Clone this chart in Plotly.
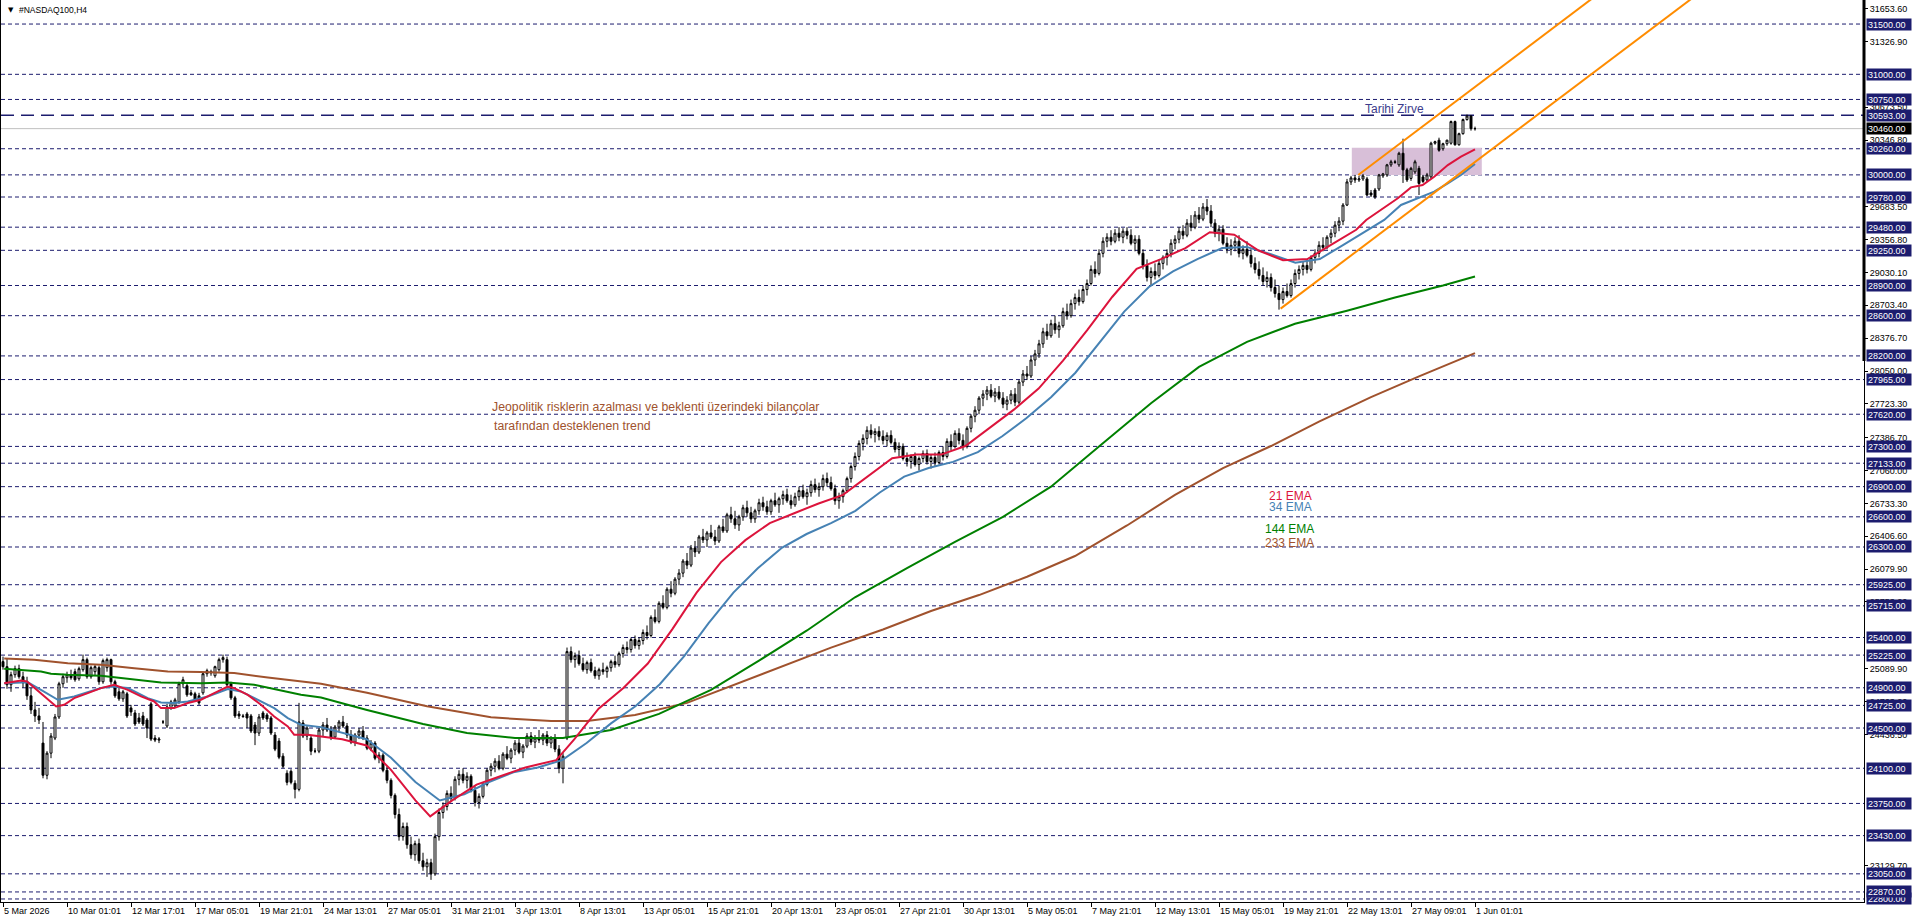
import plotly.graph_objects as go

# ---------------- data ----------------
x_labels = ["5 Mar 2026", "10 Mar 01:01", "12 Mar 17:01", "17 Mar 05:01", "19 Mar 21:01",
            "24 Mar 13:01", "27 Mar 05:01", "31 Mar 21:01", "3 Apr 13:01", "8 Apr 13:01",
            "13 Apr 05:01", "15 Apr 21:01", "20 Apr 13:01", "23 Apr 05:01", "27 Apr 21:01",
            "30 Apr 13:01", "5 May 05:01", "7 May 21:01", "12 May 13:01", "15 May 05:01",
            "19 May 21:01", "22 May 13:01", "27 May 09:01", "1 Jun 01:01"]
bars_per_label = 16

opens = [
    25160, 25110, 24930, 25030, 25090, 25010, 24950, 24820, 24680, 24620,
    24350, 24030, 24250, 24400, 24610, 24940, 25000, 25030, 25060, 24990,
    25080, 25180, 25010, 25060, 25100, 24960, 25100, 25180, 24960, 24860,
    24790, 24840, 24700, 24650, 24600, 24620, 24580, 24740, 24400, 24380,
    24560, 24520, 24700, 24720, 24760, 24940, 24920, 24850, 24840, 24820,
    24850, 25040, 25060, 25020, 25080, 25180, 25180, 24940, 24800, 24640,
    24620, 24640, 24620, 24530, 24450, 24650, 24630, 24600, 24430, 24370,
    24220, 24050, 24070, 23950, 23890, 24550, 24420, 24400, 24270, 24270,
    24480, 24530, 24480, 24410, 24510, 24560, 24520, 24430, 24360, 24430,
    24470, 24400, 24300, 24350, 24200, 24230, 24080, 23980, 23830, 23640,
    23420, 23520, 23340, 23240, 23350, 23180, 23120, 23160, 23050, 23420,
    23660, 23720, 23850, 23800, 23990, 24040, 23980, 24020, 23880, 23760,
    23820, 23940, 24080, 24120, 24170, 24100, 24240, 24200, 24280, 24350,
    24260, 24320, 24420, 24360, 24400, 24380, 24430, 24350, 24400, 24290,
    24100, 24400, 25260, 25180, 25220, 25140, 25080, 25150, 25070, 25020,
    25080, 25060, 25100, 25160, 25130, 25240, 25300, 25280, 25380, 25320,
    25370, 25450, 25420, 25600, 25560, 25740, 25700, 25880, 25840, 25980,
    26040, 26160, 26120, 26290, 26250, 26400, 26370, 26440, 26400, 26360,
    26500, 26460, 26620, 26580, 26520, 26600, 26690, 26640, 26580, 26660,
    26740, 26700, 26650, 26760, 26720, 26780, 26820, 26760, 26720, 26800,
    26860, 26800, 26840, 26920, 26870, 26900, 26980, 26940, 26880, 26760,
    26800, 26860, 26980, 27100, 27200, 27330, 27380, 27460, 27420, 27450,
    27400, 27360, 27410, 27340, 27270, 27300, 27180, 27150, 27200, 27120,
    27180, 27230, 27150, 27190, 27140, 27240, 27200, 27350, 27300, 27430,
    27360, 27300, 27480, 27600, 27660, 27780, 27820, 27860, 27800, 27840,
    27780, 27720, 27760, 27820, 27740, 27940, 28020, 28000, 28160, 28220,
    28320, 28440, 28400, 28520, 28460, 28500, 28640, 28600, 28720, 28780,
    28740, 28860, 28920, 29060, 29020, 29220, 29340, 29380, 29340, 29420,
    29380, 29440, 29400, 29320, 29360, 29220, 29100, 28980, 29040, 29000,
    29120, 29180, 29220, 29320, 29360, 29440, 29400, 29520, 29480, 29600,
    29560, 29680, 29640, 29520, 29420, 29460, 29320, 29260, 29300, 29340,
    29220, 29260, 29200, 29120, 29060, 29000, 28940, 28980, 28880, 28820,
    28760, 28840, 28800, 28920, 29020, 29060, 29100, 29060, 29180, 29220,
    29300, 29280, 29380, 29420, 29500, 29540, 29700, 29930, 29970, 29950,
    29960, 29960, 29820, 29850, 29860, 29990, 30000, 30100, 30130, 30100,
    30215, 30050, 29965, 30030, 30065, 29980, 29950, 29980, 30315, 30345,
    30260, 30310, 30315, 30530, 30300, 30410, 30550, 30585, 30460]

highs = [
    25210, 25190, 25060, 25120, 25130, 25060, 25010, 24900, 24760, 24700,
    24560, 24270, 24450, 24640, 24960, 25040, 25060, 25080, 25090, 25110,
    25230, 25200, 25120, 25130, 25120, 25190, 25200, 25190, 24980, 24900,
    24880, 24860, 24730, 24680, 24650, 24660, 24600, 24760, 24430, 24410,
    24580, 24740, 24780, 24800, 24960, 25010, 24950, 24880, 24860, 24850,
    25060, 25090, 25080, 25120, 25200, 25230, 25210, 24960, 24820, 24670,
    24640, 24660, 24640, 24560, 24640, 24670, 24650, 24620, 24460, 24400,
    24250, 24080, 24090, 23980, 24750, 24580, 24520, 24420, 24300, 24500,
    24560, 24600, 24520, 24530, 24580, 24620, 24550, 24480, 24450, 24500,
    24520, 24430, 24380, 24370, 24260, 24250, 24120, 24000, 23850, 23700,
    23560, 23560, 23420, 23380, 23400, 23260, 23200, 23200, 23450, 23700,
    23760, 23880, 23920, 24020, 24080, 24100, 24060, 24040, 23920, 23850,
    23960, 24100, 24150, 24200, 24230, 24260, 24320, 24300, 24380, 24400,
    24340, 24450, 24460, 24430, 24480, 24450, 24470, 24420, 24440, 24330,
    24250, 25300, 25310, 25250, 25270, 25200, 25170, 25190, 25110, 25100,
    25150, 25120, 25180, 25220, 25260, 25330, 25360, 25400, 25420, 25400,
    25480, 25520, 25620, 25680, 25760, 25820, 25900, 25960, 26000, 26080,
    26180, 26240, 26320, 26360, 26420, 26480, 26460, 26520, 26470, 26520,
    26580, 26640, 26700, 26660, 26620, 26720, 26760, 26700, 26680, 26780,
    26800, 26760, 26780, 26840, 26800, 26860, 26880, 26820, 26840, 26900,
    26920, 26880, 26960, 26980, 26940, 27020, 27040, 27000, 26920, 26840,
    26880, 27000, 27120, 27240, 27360, 27420, 27500, 27520, 27480, 27500,
    27460, 27440, 27460, 27380, 27340, 27330, 27240, 27220, 27240, 27200,
    27260, 27270, 27220, 27240, 27260, 27300, 27380, 27420, 27460, 27480,
    27420, 27500, 27620, 27700, 27800, 27860, 27900, 27920, 27880, 27900,
    27840, 27800, 27860, 27880, 27960, 28060, 28100, 28200, 28260, 28360,
    28480, 28520, 28560, 28600, 28540, 28680, 28720, 28760, 28820, 28860,
    28900, 28960, 29100, 29140, 29260, 29380, 29420, 29450, 29460, 29480,
    29470, 29480, 29460, 29400, 29400, 29260, 29160, 29080, 29120, 29160,
    29200, 29260, 29360, 29400, 29480, 29500, 29560, 29600, 29640, 29680,
    29720, 29760, 29700, 29560, 29500, 29500, 29380, 29360, 29380, 29400,
    29300, 29340, 29260, 29180, 29140, 29080, 29040, 29020, 28960, 28900,
    28880, 28920, 28960, 29060, 29100, 29140, 29160, 29200, 29260, 29340,
    29380, 29400, 29460, 29540, 29580, 29720, 29960, 29990, 30000, 29990,
    30010, 29980, 29850, 29870, 30010, 30020, 30110, 30150, 30150, 30230,
    30360, 30070, 30080, 30150, 30090, 30000, 30020, 30330, 30340, 30370,
    30320, 30350, 30540, 30540, 30420, 30560, 30600, 30595, 30480]

lows = [
    25080, 24890, 24860, 25000, 24990, 24900, 24780, 24640, 24560, 24540,
    24000, 23990, 24200, 24380, 24590, 24900, 24950, 24980, 24960, 24970,
    25060, 24990, 24990, 25020, 24930, 24940, 25060, 24930, 24800, 24770,
    24760, 24600, 24620, 24520, 24540, 24520, 24400, 24370, 24360, 24350,
    24540, 24500, 24680, 24700, 24740, 24900, 24810, 24820, 24760, 24730,
    24830, 25010, 25020, 25000, 25060, 25150, 24910, 24780, 24600, 24590,
    24600, 24500, 24450, 24330, 24420, 24580, 24560, 24430, 24270, 24190,
    24100, 23930, 23940, 23800, 23870, 24400, 24380, 24230, 24250, 24250,
    24420, 24460, 24380, 24390, 24470, 24500, 24400, 24340, 24320, 24390,
    24380, 24280, 24270, 24180, 24150, 24060, 23950, 23800, 23600, 23380,
    23380, 23300, 23200, 23180, 23150, 23080, 23020, 22990, 23030, 23380,
    23600, 23680, 23770, 23780, 23930, 23950, 23900, 23860, 23720, 23700,
    23800, 23920, 24020, 24060, 24080, 24080, 24180, 24150, 24230, 24240,
    24200, 24300, 24330, 24300, 24350, 24330, 24320, 24300, 24260, 24050,
    23950, 24380, 25150, 25100, 25120, 25060, 25040, 25050, 24990, 24980,
    25030, 25000, 25060, 25100, 25110, 25200, 25240, 25250, 25290, 25280,
    25330, 25380, 25400, 25540, 25540, 25680, 25680, 25800, 25820, 25920,
    26000, 26080, 26100, 26200, 26230, 26340, 26300, 26380, 26320, 26340,
    26440, 26440, 26540, 26480, 26460, 26560, 26600, 26540, 26540, 26620,
    26660, 26620, 26620, 26700, 26640, 26720, 26740, 26680, 26700, 26760,
    26780, 26720, 26800, 26840, 26800, 26860, 26900, 26860, 26720, 26680,
    26740, 26840, 26940, 27060, 27160, 27260, 27320, 27380, 27340, 27360,
    27320, 27300, 27320, 27240, 27200, 27160, 27100, 27080, 27100, 27060,
    27140, 27120, 27080, 27100, 27120, 27160, 27180, 27260, 27280, 27320,
    27260, 27280, 27440, 27540, 27620, 27700, 27760, 27780, 27740, 27760,
    27680, 27660, 27720, 27700, 27720, 27900, 27960, 27980, 28100, 28180,
    28280, 28360, 28380, 28420, 28380, 28480, 28560, 28580, 28660, 28700,
    28720, 28800, 28900, 28980, 29000, 29180, 29280, 29300, 29320, 29340,
    29320, 29360, 29300, 29240, 29200, 29060, 28940, 28900, 28960, 28980,
    29060, 29100, 29180, 29260, 29320, 29360, 29380, 29440, 29460, 29520,
    29540, 29600, 29480, 29380, 29340, 29300, 29220, 29200, 29240, 29180,
    29160, 29180, 29080, 29020, 28960, 28900, 28880, 28840, 28780, 28660,
    28720, 28780, 28780, 28880, 28960, 29000, 29020, 29040, 29120, 29180,
    29240, 29260, 29320, 29380, 29440, 29500, 29690, 29900, 29920, 29930,
    29940, 29790, 29780, 29760, 29840, 29970, 29980, 30080, 30110, 30080,
    29920, 29930, 29940, 30010, 29800, 29920, 29930, 29960, 30300, 30230,
    30240, 30290, 30300, 30290, 30290, 30400, 30540, 30440, 30440]

closes = [
    25110, 24930, 25030, 25090, 25010, 24950, 24820, 24680, 24620, 24580,
    24030, 24250, 24420, 24610, 24940, 25010, 25030, 25000, 24980, 25090,
    25180, 25010, 25100, 25110, 24960, 25170, 25180, 24960, 24820, 24790,
    24860, 24620, 24660, 24540, 24560, 24540, 24500, 24390, 24380, 24390,
    24560, 24710, 24760, 24780, 24940, 24980, 24830, 24830, 24780, 24750,
    25040, 25070, 25050, 25110, 25180, 25200, 24930, 24800, 24620, 24620,
    24615, 24600, 24470, 24450, 24610, 24600, 24590, 24450, 24290, 24210,
    24120, 23960, 23960, 23890, 24560, 24420, 24500, 24270, 24270, 24480,
    24530, 24480, 24410, 24510, 24560, 24520, 24430, 24360, 24430, 24470,
    24400, 24300, 24350, 24200, 24230, 24080, 23980, 23830, 23640, 23420,
    23520, 23340, 23240, 23350, 23180, 23120, 23160, 23050, 23420, 23660,
    23720, 23850, 23800, 23990, 24040, 23980, 24020, 23880, 23760, 23820,
    23940, 24080, 24120, 24170, 24100, 24240, 24200, 24280, 24350, 24260,
    24320, 24420, 24360, 24400, 24380, 24430, 24350, 24400, 24290, 24100,
    24220, 25260, 25180, 25220, 25140, 25080, 25150, 25070, 25020, 25080,
    25060, 25100, 25160, 25130, 25240, 25300, 25280, 25380, 25320, 25370,
    25450, 25420, 25600, 25560, 25740, 25700, 25880, 25840, 25980, 26040,
    26160, 26120, 26290, 26250, 26400, 26370, 26440, 26400, 26360, 26500,
    26460, 26620, 26580, 26520, 26600, 26690, 26640, 26580, 26660, 26740,
    26700, 26650, 26760, 26720, 26780, 26820, 26760, 26720, 26800, 26860,
    26800, 26840, 26920, 26870, 26900, 26980, 26940, 26880, 26760, 26800,
    26860, 26980, 27100, 27200, 27330, 27380, 27460, 27420, 27450, 27400,
    27360, 27410, 27340, 27270, 27300, 27180, 27150, 27200, 27120, 27180,
    27230, 27150, 27190, 27140, 27240, 27200, 27350, 27300, 27430, 27360,
    27300, 27480, 27600, 27660, 27780, 27820, 27860, 27800, 27840, 27780,
    27720, 27760, 27820, 27740, 27940, 28020, 28000, 28160, 28220, 28320,
    28440, 28400, 28520, 28460, 28500, 28640, 28600, 28720, 28780, 28740,
    28860, 28920, 29060, 29020, 29220, 29340, 29380, 29340, 29420, 29380,
    29440, 29400, 29320, 29360, 29220, 29100, 28980, 29040, 29000, 29120,
    29180, 29220, 29320, 29360, 29440, 29400, 29520, 29480, 29600, 29560,
    29680, 29640, 29520, 29420, 29460, 29320, 29260, 29300, 29340, 29220,
    29260, 29200, 29120, 29060, 29000, 28940, 28980, 28880, 28820, 28760,
    28840, 28800, 28920, 29020, 29060, 29100, 29060, 29180, 29220, 29300,
    29280, 29380, 29420, 29500, 29540, 29700, 29930, 29970, 29950, 29960,
    29990, 29800, 29800, 29780, 30000, 30010, 30100, 30130, 30125, 30215,
    30050, 29950, 30065, 30130, 29915, 29935, 30000, 30315, 30330, 30245,
    30310, 30345, 30530, 30300, 30410, 30550, 30585, 30460, 30460]

# EMA lines (bar index, price)
ema21_bar = [0.3, 4.5, 6, 9.5, 13.3, 15.3, 17.8, 21.2, 24.5, 27.8, 31.2, 34.5, 37.8, 39.5, 42.8,
             46.2, 49.5, 52.8, 56.2, 57.8, 61.2, 64.5, 67.8, 71.2, 72.8, 76.2, 79.5, 84.8, 90.9,
             97.0, 103.1, 106.8, 112.3, 118.4, 124.5, 130.6, 138.3, 142.8, 148.9, 155.1, 161.2,
             167.3, 173.4, 179.5, 185.6, 191.7, 197.8, 203.9, 210.0, 216.1, 222.3, 228.4, 234.5,
             240.6, 246.7, 252.8, 258.9, 265.0, 271.1, 277.3, 283.4, 289.5, 295.6, 301.7, 307.8,
             313.9, 320.0, 326.1, 332.2, 338.3, 340.8, 344.5, 348.7, 352.0, 354.9, 357.8, 361.2,
             364.5, 368.0]
ema21_val = [24946, 24973, 24963, 24847, 24714, 24731, 24797, 24847, 24897, 24930, 24880, 24814,
             24764, 24698, 24698, 24748, 24781, 24847, 24913, 24897, 24830, 24731, 24615, 24516,
             24433, 24433, 24416, 24388, 24327, 24084, 23780, 23622, 23780, 23938, 24023, 24108,
             24181, 24388, 24692, 24898, 25141, 25481, 25846, 26150, 26368, 26538, 26636, 26733,
             26818, 27000, 27182, 27219, 27219, 27304, 27486, 27668, 27875, 28154, 28458, 28786,
             29066, 29163, 29272, 29430, 29406, 29248, 29151, 29163, 29309, 29454, 29552, 29651,
             29767, 29876, 29900, 29982, 30098, 30181, 30254]

ema34_bar = [0.3, 6.2, 9.5, 13.7, 17.8, 24.5, 27.0, 31.2, 36.2, 39.5, 42.8, 46.2, 51.2, 56.2,
             59.5, 62.8, 67.8, 71.2, 74.5, 79.5, 90.9, 97.0, 103.1, 109.2, 115.3, 121.5, 127.6,
             133.7, 139.8, 145.9, 152.0, 158.1, 164.2, 170.3, 176.4, 182.6, 188.7, 194.8, 200.9,
             207.0, 213.1, 219.2, 225.3, 231.4, 237.5, 243.7, 249.8, 255.9, 262.0, 268.1, 274.2,
             280.3, 286.4, 292.5, 298.6, 304.8, 310.9, 317.0, 323.1, 329.2, 335.3, 345.3, 349.5,
             354.5, 357.8, 361.2, 364.5, 368.0]
ema34_val = [24946, 24956, 24880, 24781, 24814, 24897, 24913, 24897, 24797, 24754, 24748, 24764,
             24814, 24887, 24864, 24797, 24698, 24599, 24532, 24509, 24388, 24205, 23963, 23780,
             23841, 23963, 24060, 24108, 24181, 24351, 24546, 24716, 24935, 25214, 25542, 25846,
             26089, 26295, 26429, 26538, 26660, 26842, 27000, 27085, 27146, 27243, 27401, 27583,
             27790, 28033, 28337, 28640, 28883, 29041, 29163, 29272, 29284, 29211, 29126, 29163,
             29309, 29552, 29701, 29784, 29833, 29916, 29999, 30108]

ema144_bar = [0.3, 7, 9.5, 12, 16.2, 24.5, 32.8, 39.5, 49.5, 56.2, 62.8, 67.8, 74.5, 79.5, 91,
              105, 116, 128, 140, 152, 164, 177, 189, 201, 213, 226, 238, 250, 262, 274, 287,
              299, 311, 323, 336, 348, 360, 368]
ema144_val = [25089, 25072, 25062, 25039, 25029, 25019, 24986, 24953, 24946, 24953, 24930, 24887,
              24830, 24804, 24680, 24540, 24450, 24400, 24400, 24480, 24640, 24880, 25170, 25470,
              25800, 26090, 26350, 26600, 26900, 27300, 27730, 28090, 28340, 28520, 28650, 28780,
              28900, 28990]

ema233_bar = [0.3, 7.8, 16.2, 24.5, 32.8, 41.2, 49.5, 57.8, 66.2, 74.5, 79.5, 91, 106, 122, 137,
              146, 158, 171, 183, 195, 207, 220, 232, 244, 256, 268, 281, 293, 305, 317, 329,
              342, 354, 368]
ema233_val = [25191, 25178, 25145, 25128, 25095, 25062, 25056, 25046, 25003, 24963, 24940, 24850,
              24716, 24606, 24570, 24570, 24630, 24750, 24935, 25117, 25299, 25480, 25664, 25822,
              26004, 26210, 26514, 26818, 27085, 27304, 27547, 27790, 27996, 28228]

# channel trend lines (bar, price)
chan_upper_x = [338.8, 420]
chan_upper_y = [29999, 32435]
chan_lower_x = [319.4, 440]
chan_lower_y = [28670, 32288]

# zone rectangle
zone_x = [337.2, 369.7]
zone_y = [29999, 30270]

# horizontal levels with price boxes
dash_levels = [31500, 31000, 30750, 30260, 30000, 29780, 29480, 29250, 28900, 28600, 28200,
               27965, 27620, 27300, 27133, 26900, 26600, 26300, 25925, 25715, 25400, 25225,
               24900, 24725, 24500, 24100, 23750, 23430, 23050, 22870, 22800]
ath_level = 30593
bid_level = 30460

# price scale grid values
scale_vals = [31653.6, 31326.9, 30673.5, 30346.8, 29683.5, 29356.8, 29030.1, 28703.4, 28376.7,
              28050.0, 27723.3, 27386.7, 27060.0, 26733.3, 26406.6, 26079.9, 25753.2, 25089.9,
              24763.2, 24436.5, 23129.7]

# ---------------- figure ----------------
FONT = "Liberation Sans, Arial, sans-serif"
NAVY = "#1c1c6e"
W, H = 1916, 923
ML, MR, MT, MB = 1, 52, 0, 21
PH = H - MT - MB

fig = go.Figure()

bars = list(range(len(closes)))
fig.add_trace(go.Candlestick(
    x=bars, open=opens, high=highs, low=lows, close=closes,
    increasing=dict(fillcolor="white", line=dict(color="black", width=1)),
    decreasing=dict(fillcolor="black", line=dict(color="black", width=1)),
    whiskerwidth=0, showlegend=False, hoverinfo="skip"))

for bx, vy, col in [(ema233_bar, ema233_val, "#A0522D"),
                    (ema144_bar, ema144_val, "#008000"),
                    (ema34_bar, ema34_val, "#4682B4"),
                    (ema21_bar, ema21_val, "#DC143C")]:
    fig.add_trace(go.Scatter(x=bx, y=vy, mode="lines", line=dict(color=col, width=2),
                             showlegend=False, hoverinfo="skip"))

for cx, cy in [(chan_upper_x, chan_upper_y), (chan_lower_x, chan_lower_y)]:
    fig.add_trace(go.Scatter(x=cx, y=cy, mode="lines", line=dict(color="#FF8C00", width=2),
                             showlegend=False, hoverinfo="skip", cliponaxis=True))

shapes = []
shapes.append(dict(type="rect", xref="x", yref="y", x0=zone_x[0], x1=zone_x[1],
                   y0=zone_y[0], y1=zone_y[1], fillcolor="#D8BFD8", line=dict(width=0),
                   layer="below"))
for lv in dash_levels:
    shapes.append(dict(type="line", xref="paper", yref="y", x0=0, x1=1, y0=lv, y1=lv,
                       line=dict(color=NAVY, width=1, dash="4px,3px"), layer="below"))
shapes.append(dict(type="line", xref="paper", yref="y", x0=0, x1=1, y0=ath_level, y1=ath_level,
                   line=dict(color=NAVY, width=1.5, dash="13px,7px"), layer="below"))
shapes.append(dict(type="line", xref="paper", yref="y", x0=0, x1=1, y0=bid_level, y1=bid_level,
                   line=dict(color="#C0C0C0", width=1), layer="below"))
shapes.append(dict(type="line", xref="paper", yref="paper", x0=1, x1=1,
                   y0=1 - 361 / PH, y1=1, line=dict(color="black", width=3)))

annotations = []
# price boxes
box_levels = sorted(dash_levels + [ath_level])
for lv in box_levels:
    annotations.append(dict(xref="paper", yref="y", x=1, y=lv, xanchor="left", yanchor="middle",
                            xshift=2, text=f"{lv:.2f}", showarrow=False, align="left",
                            font=dict(family=FONT, size=9, color="white"), bgcolor=NAVY,
                            width=42, height=9, borderpad=1))
annotations.append(dict(xref="paper", yref="y", x=1, y=bid_level, xanchor="left", yanchor="middle",
                        xshift=2, text=f"{bid_level:.2f}", showarrow=False, align="left",
                        font=dict(family=FONT, size=9, color="white"), bgcolor="black",
                        width=42, height=9, borderpad=1))

# title
annotations.append(dict(xref="paper", yref="paper", x=(6 - ML) / (W - ML - MR), y=1 - 10.5 / PH,
                        xanchor="left", yanchor="middle", text="▼", showarrow=False,
                        font=dict(family="DejaVu Sans", size=7, color="black")))
annotations.append(dict(xref="paper", yref="paper", x=(17 - ML) / (W - ML - MR), y=1 - 10.5 / PH,
                        xanchor="left", yanchor="middle", text="#NASDAQ100,H4", showarrow=False,
                        font=dict(family=FONT, size=8.5, color="black")))

# chart texts
annotations.append(dict(xref="x", yref="y", x=340, y=30652, xanchor="left", yanchor="middle",
                        text="Tarihi Zirve", showarrow=False,
                        font=dict(family=FONT, size=12, color="#3c3c8c")))
annotations.append(dict(xref="x", yref="y", x=121.75, y=27695, xanchor="left", yanchor="middle",
                        text="Jeopolitik risklerin azalması ve beklenti üzerindeki bilançolar",
                        showarrow=False, font=dict(family=FONT, size=12.3, color="#A0522D")))
annotations.append(dict(xref="x", yref="y", x=122.2, y=27503, xanchor="left", yanchor="middle",
                        text="tarafından desteklenen trend",
                        showarrow=False, font=dict(family=FONT, size=12.3, color="#A0522D")))
for txt, xx, yy, col in [("21 EMA", 316, 26810, "#DC143C"), ("34 EMA", 316, 26697, "#4682B4"),
                         ("144 EMA", 315, 26474, "#008000"), ("233 EMA", 315, 26336, "#A0522D")]:
    annotations.append(dict(xref="x", yref="y", x=xx, y=yy, xanchor="left", yanchor="middle",
                            text=txt, showarrow=False, font=dict(family=FONT, size=12, color=col)))

fig.update_layout(
    width=W, height=H, margin=dict(l=ML, r=MR, t=MT, b=MB),
    paper_bgcolor="white", plot_bgcolor="white", hovermode=False, showlegend=False,
    shapes=shapes, annotations=annotations,
    xaxis=dict(range=[-0.5, 465.25], showgrid=False, zeroline=False, showline=True,
               linecolor="black", linewidth=1, mirror=False,
               tickvals=[bars_per_label * k for k in range(len(x_labels))], ticktext=x_labels,
               ticks="outside", ticklen=4, tickcolor="black", tickwidth=1,
               ticklabelposition="outside right",
               tickfont=dict(family=FONT, size=9, color="black"),
               rangeslider=dict(visible=False), fixedrange=True),
    yaxis=dict(range=[22770, 31739], side="right", showgrid=False, zeroline=False, showline=True,
               linecolor="black", linewidth=1, mirror=True,
               tickvals=scale_vals, ticktext=[f"{v:.2f}" for v in scale_vals],
               ticks="outside", ticklen=3, tickcolor="black",
               tickfont=dict(family=FONT, size=9, color="black"), fixedrange=True),
)

fig.write_html("out.html")
